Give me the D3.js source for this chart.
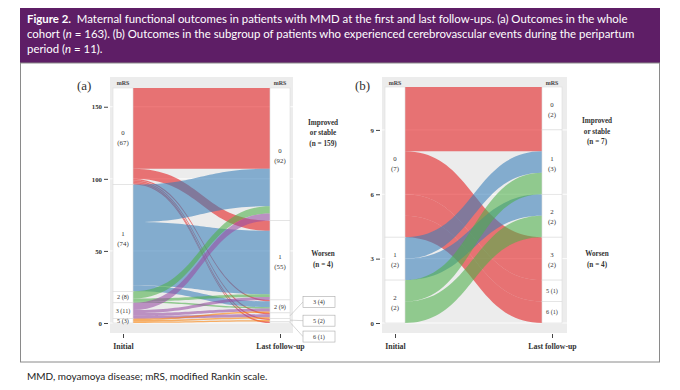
<!DOCTYPE html>
<html><head><meta charset="utf-8">
<script src="https://cdn.jsdelivr.net/npm/d3@7"></script>
<style>body{margin:0;background:#fff}</style>
</head><body><svg id="c" width="680" height="390"></svg>
<script>
// ---------- data ----------
const levels = ["0","1","2","3","5","6"];
const levelColors = ["#E41A1C","#377EB8","#4DAF4A","#984EA3","#FF7F00","#A65628"];
const axisNames = ["Initial","Last follow-up"];

// Panel (a): whole cohort (n = 163)
const aFrom  = ["0","0","0","0","0","0","1","1","1","2","2","2","3","3","3","3","5","5","5"];
const aTo    = ["0","1","2","3","5","6","0","1","2","0","1","2","0","1","2","3","2","3","5"];
const aCount = [56,7,1,1,1,1,26,44,4,5,2,1,5,2,2,2,1,1,1];
const aTicks = [0,50,100,150];
const aNotes = [["Improved","or stable","(n = 159)"],["Worsen","(n = 4)"]];

// Panel (b): peripartum cerebrovascular events (n = 11)
const bFrom  = ["0","0","0","0","0","1","1","2","2"];
const bTo    = ["0","1","3","5","6","1","2","1","2"];
const bCount = [2,1,2,1,1,1,1,1,1];
const bTicks = [0,3,6,9];
const bNotes = [["Improved","or stable","(n = 7)"],["Worsen","(n = 4)"]];

const headerLines = [
  [{t:"Figure 2.",b:true},{t:"  Maternal functional outcomes in patients with MMD at the first and last follow-ups. (a) Outcomes in the whole"}],
  [{t:"cohort ("},{t:"n",i:true},{t:" = 163). (b) Outcomes in the subgroup of patients who experienced cerebrovascular events during the peripartum"}],
  [{t:"period ("},{t:"n",i:true},{t:" = 11)."}]
];
const footnote = "MMD, moyamoya disease; mRS, modified Rankin scale.";

// ---------- drawing ----------
const svg = d3.select("#c");
const SERIF = "'Liberation Serif','DejaVu Serif',serif";
const SANS = "Lato,'Open Sans',sans-serif";
const color = d3.scaleOrdinal().domain(levels).range(levelColors);

// header
svg.append("rect").attr("x",20).attr("y",8).attr("width",640).attr("height",55).attr("fill","#5E1E66");
svg.append("rect").attr("x",20.5).attr("y",63).attr("width",639).attr("height",299).attr("fill","#fff").attr("stroke","#8a8a8a").attr("stroke-width",1);
headerLines.forEach((line,k)=>{
  const t = svg.append("text").attr("x",27).attr("y",23+k*15).attr("fill","#fff")
    .attr("font-family",SANS).attr("font-size",11.4);
  line.forEach(s=>t.append("tspan").text(s.t).attr("font-weight",s.b?"bold":null).attr("font-style",s.i?"italic":null).attr("xml:space","preserve"));
});
svg.append("text").attr("x",27).attr("y",380).attr("font-family",SANS).attr("font-size",10).attr("fill","#222").text(footnote);

function drawPanel(cfg, from, to, count, ticks, notes){
  const g = svg.append("g");
  const flows = from.map((f,i)=>({f, t:to[i], n:count[i]}));
  const total = d3.sum(count);
  const idx = l => levels.indexOf(l);
  const y = d3.scaleLinear().domain([0,total]).range([cfg.yBot, cfg.yTop]);
  const x = d3.scalePoint().domain(axisNames).range(cfg.xc);
  const hw = cfg.sw/2;

  // panel background + grid
  g.append("rect").attr("x",cfg.px0).attr("y",cfg.py0).attr("width",cfg.px1-cfg.px0).attr("height",cfg.py1-cfg.py0).attr("fill","#ECECEC");
  g.selectAll(".grid").data(ticks).join("line").attr("x1",cfg.px0).attr("x2",cfg.px1)
    .attr("y1",d=>y(d)).attr("y2",d=>y(d)).attr("stroke","#fff").attr("stroke-width",0.9);

  function strata(key){
    const tot = d3.rollup(flows, v=>d3.sum(v,d=>d.n), d=>d[key]);
    let c = total;
    return levels.filter(l=>tot.has(l)).map(l=>{const top=c; c-=tot.get(l); return {l, n:tot.get(l), top, bot:c};});
  }
  const L = strata("f"), R = strata("t");
  const lt = new Map(L.map(s=>[s.l,s.top]));
  flows.slice().sort((a,b)=>idx(a.f)-idx(b.f)||idx(a.t)-idx(b.t)).forEach(d=>{const t=lt.get(d.f); d.a0=t; d.a1=t-d.n; lt.set(d.f,t-d.n);});
  const rt = new Map(R.map(s=>[s.l,s.top]));
  flows.slice().sort((a,b)=>idx(a.t)-idx(b.t)||idx(a.f)-idx(b.f)).forEach(d=>{const t=rt.get(d.t); d.b0=t; d.b1=t-d.n; rt.set(d.t,t-d.n);});

  const x0 = x(axisNames[0])+hw, x1 = x(axisNames[1])-hw, xm=(x0+x1)/2;
  g.selectAll(".flow").data(flows).join("path")
    .attr("d",d=>{
      const p=d3.path();
      p.moveTo(x0,y(d.a0)); p.bezierCurveTo(xm,y(d.a0),xm,y(d.b0),x1,y(d.b0));
      p.lineTo(x1,y(d.b1)); p.bezierCurveTo(xm,y(d.b1),xm,y(d.a1),x0,y(d.a1)); p.closePath();
      return p.toString();})
    .attr("fill",d=>color(d.f)).attr("fill-opacity",0.58);

  // strata boxes
  [[L,axisNames[0]],[R,axisNames[1]]].forEach(([S,ax],side)=>{
    const cx = x(ax);
    g.selectAll(null).data(S).join("rect").attr("x",cx-hw).attr("width",cfg.sw)
      .attr("y",d=>y(d.top)).attr("height",d=>y(d.bot)-y(d.top))
      .attr("fill","#fff").attr("stroke","#dcdcdc").attr("stroke-width",0.6);
    g.append("text").attr("x",cx).attr("y",cfg.py0+8).attr("text-anchor","middle")
      .attr("font-family",SERIF).attr("font-size",6).attr("font-weight","bold").attr("fill","#444").text("mRS");
    let outside = 0;
    S.forEach(d=>{
      const h = y(d.bot)-y(d.top), cy=(y(d.bot)+y(d.top))/2;
      const txt = (xx,yy,s,fs)=>g.append("text").attr("font-family",SERIF).attr("font-size",fs).attr("fill","#333")
          .attr("text-anchor","middle").attr("x",xx).attr("y",yy).text(s);
      if(h>30){
        txt(cx,cy-1.5,d.l,6.8);
        txt(cx,cy+8.5,"("+d.n+")",6.8);
      } else if(h>8 || side===0){
        txt(cx,cy+2.2,d.l+" ("+d.n+")",6.2);
      } else {
        const by = y(d.top) - 11 + 13*outside; outside++;
        const bx = cx+hw+13;
        g.append("line").attr("x1",cx+hw).attr("y1",cy).attr("x2",bx).attr("y2",by).attr("stroke","#bbb").attr("stroke-width",0.6);
        g.append("rect").attr("x",bx).attr("y",by-5.5).attr("width",32).attr("height",11).attr("fill","#fff").attr("stroke","#aaa").attr("stroke-width",0.6);
        txt(bx+16,by+2.2,d.l+" ("+d.n+")",6.2);
      }
    });
  });

  // axes
  const ya = g.append("g").attr("transform",`translate(${cfg.px0-2},0)`)
    .call(d3.axisLeft(y).tickValues(ticks).tickSize(4).tickPadding(2));
  ya.select(".domain").remove();
  ya.selectAll("line").attr("stroke","#444");
  ya.selectAll("text").attr("font-family",SERIF).attr("font-size",6.8).attr("font-weight","bold").attr("fill","#333");
  const xa = g.append("g").attr("transform",`translate(0,${cfg.py1+1})`)
    .call(d3.axisBottom(x).tickSize(4).tickPadding(5));
  xa.select(".domain").remove();
  xa.selectAll("line").attr("stroke","#444");
  xa.selectAll("text").attr("font-family",SERIF).attr("font-size",7.8).attr("font-weight","bold").attr("fill","#333");

  // panel tag
  g.append("text").attr("x",cfg.tagX).attr("y",90).attr("font-family",SERIF).attr("font-size",13).attr("fill","#333").text(cfg.tag);

  // notes
  notes.forEach((lines,k)=>{
    lines.forEach((s,j)=>g.append("text").attr("x",cfg.noteX).attr("y",cfg.noteY[k]+j*10.5)
      .attr("text-anchor","middle").attr("font-family",SERIF).attr("font-size",7.2).attr("font-weight","bold").attr("fill","#333").text(s));
  });
}

drawPanel({px0:110,px1:293,py0:77,py1:333,yTop:88,yBot:323,xc:[123,280],sw:20,tag:"(a)",tagX:77,noteX:323,noteY:[124.5,256]},
  aFrom,aTo,aCount,aTicks,aNotes);
drawPanel({px0:382,px1:567,py0:77,py1:333,yTop:87,yBot:323,xc:[395,552],sw:20,tag:"(b)",tagX:355,noteX:597,noteY:[123,256]},
  bFrom,bTo,bCount,bTicks,bNotes);
</script></body></html>
